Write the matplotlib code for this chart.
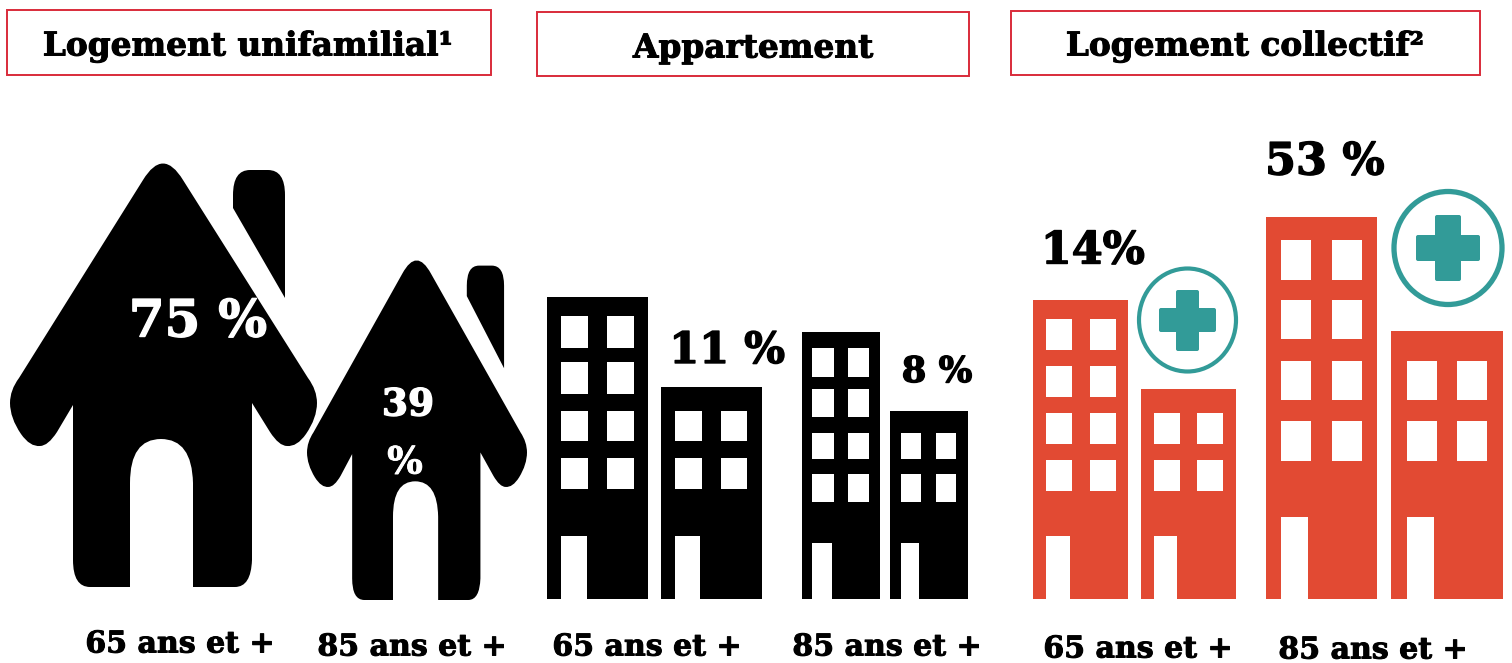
import matplotlib
matplotlib.use("Agg")
import matplotlib.pyplot as plt
import matplotlib.patheffects as pe
from matplotlib.path import Path
from matplotlib.patches import PathPatch, Rectangle, Ellipse, FancyBboxPatch

# housing types and shares
titles = ["Logement unifamilial¹", "Appartement", "Logement collectif²"]
age_labels = ["65 ans et +", "85 ans et +", "65 ans et +", "85 ans et +", "65 ans et +", "85 ans et +"]
shares = [75, 39, 11, 8, 14, 53]
share_labels = ["75 %", "39", "11 %", "8 %", "14%", "53 %"]

RED = "#E24A33"
TEAL = "#329B98"
BOX_RED = "#D92B3A"
FONT = "DejaVu Serif"

fig = plt.figure(figsize=(15.12, 6.63), dpi=100)
ax = fig.add_axes([0, 0, 1, 1])
ax.set_xlim(0, 1512)
ax.set_ylim(663, 0)
ax.axis("off")


def heavy(x, y, s, fs, color="black", stroke=0.7):
    # the original face is an extra bold slab, a thin stroke gets closer to it
    t = ax.text(x, y, s, ha="center", va="center", family=FONT, weight="bold", fontsize=fs, color=color)
    t.set_path_effects([pe.withStroke(linewidth=stroke, foreground=color)])


def house(x0, x1, y0, y1):
    # outline drawn once for the big house, then squeezed into the given box
    fx = lambda x: x0 + (x - 10) / 307 * (x1 - x0)
    fy = lambda y: y0 + (y - 163) / 424 * (y1 - y0)
    M, L, C = Path.MOVETO, Path.LINETO, Path.CURVE3
    body = [
        (M, 143, 180), (C, 163, 147), (C, 183, 180),
        (L, 308, 378), (C, 317, 390), (C, 317, 403),
        (C, 317, 418), (C, 306, 434), (C, 297, 447), (C, 287, 446),
        (C, 279, 446), (C, 270, 432), (L, 252, 403),
        (L, 252, 560), (C, 251, 587), (C, 235, 587),
        (L, 193, 587), (L, 193, 483), (C, 192, 439), (C, 161, 439), (C, 130, 439), (C, 130, 483),
        (L, 130, 587), (L, 90, 587), (C, 73, 587), (C, 73, 560),
        (L, 73, 405), (L, 57, 432), (C, 48, 446), (C, 40, 446), (C, 30, 447), (C, 21, 434),
        (C, 10, 418), (C, 10, 403), (C, 10, 390), (C, 19, 378), (L, 143, 180),
    ]
    chimney = [
        (M, 233, 208), (L, 233, 195), (C, 233, 170), (C, 250, 170), (L, 268, 170),
        (C, 285, 170), (C, 285, 195), (L, 285, 298), (L, 233, 208),
    ]
    verts, codes = [], []
    for code, x, y in body + chimney:
        verts.append((fx(x), fy(y)))
        codes.append(code)
    ax.add_patch(PathPatch(Path(verts, codes), fc="black", ec="none"))


def building(x0, x1, top, color, win_cols, win_rows, door, bottom=599):
    ax.add_patch(Rectangle((x0, top), x1 - x0, bottom - top, fc=color, ec="none"))
    for a, b in win_cols:
        for c, d in win_rows:
            ax.add_patch(Rectangle((a, c), b - a, d - c, fc="white", ec="none"))
    ax.add_patch(Rectangle((door[0], door[2]), door[1] - door[0], bottom - door[2] + 1, fc="white", ec="none"))


def medical(cx, cy, w, h, lw, hbar, vbar):
    ax.add_patch(Ellipse((cx, cy), w, h, fc="white", ec=TEAL, lw=lw))
    for a, b, c, d in (hbar, vbar):
        ax.add_patch(FancyBboxPatch((a + 2, c + 2), b - a - 4, d - c - 4, boxstyle="round,pad=2",
                                    fc=TEAL, ec="none"))


# title boxes
for (x0, x1, y0, y1), t, tx, ty in zip(
        [(7, 491, 10, 75), (537, 969, 12, 76), (1011, 1480, 11, 75)], titles,
        [248, 753, 1245], [46, 48, 46]):
    ax.add_patch(Rectangle((x0, y0), x1 - x0, y1 - y0, fc="white", ec=BOX_RED, lw=1.4))
    heavy(tx, ty, t, 23.6)

# houses
house(10, 317, 163, 587)
house(307, 527, 260, 600)

# black buildings
rows_a = [(316, 348), (362, 394), (411, 441), (458, 489)]
rows_c = [(348, 377), (389, 417), (433, 459), (474, 502)]
building(547, 648, 297, "black", [(561, 588), (607, 634)], rows_a, (561, 587, 536))
building(661, 762, 387, "black", [(675, 702), (721, 747)], rows_a[2:], (675, 700, 536))
building(802, 880, 332, "black", [(812, 834), (848, 869)], rows_c, (812, 832, 543))
building(890, 968, 411, "black", [(901, 921), (936, 956)], rows_c[2:], (901, 919, 543))

# red buildings
rows_e = [(319, 350), (366, 397), (413, 444), (460, 491)]
rows_g = [(240, 280), (300, 339), (361, 400), (421, 461)]
building(1033, 1128, 300, RED, [(1046, 1072), (1090, 1116)], rows_e, (1046, 1070, 536))
building(1141, 1236, 389, RED, [(1154, 1180), (1197, 1223)], rows_e[2:], (1154, 1177, 536))
building(1266, 1377, 217, RED, [(1281, 1311), (1332, 1362)], rows_g, (1281, 1308, 517))
building(1391, 1503, 331, RED, [(1407, 1437), (1457, 1487)], rows_g[2:], (1407, 1434, 517))

medical(1187.5, 320, 97, 103, 3.0, (1159, 1216, 308, 332), (1176, 1199, 290, 351))
medical(1448, 248, 108, 113, 3.8, (1416, 1480, 235, 261), (1435, 1461, 215, 281))

# share labels
share_pos = [(198, 323, 37, "white"), (408, 405, 27, "white"), (727, 351, 31, "black"),
             (937, 372, 25.5, "black"), (1093, 251, 32, "black"), (1325, 162, 32, "black")]
for s, (x, y, fs, c) in zip(share_labels, share_pos):
    heavy(x, y, s, fs, c, stroke=1.0)
heavy(405, 463, "%", 27, "white", stroke=0.6)

# age labels under each icon
for s, x, y in zip(age_labels, [180, 412, 647, 887, 1138, 1373], [644, 647, 647, 647, 649, 650]):
    heavy(x, y, s, 21.6)

fig.savefig("out.png", dpi=100)
